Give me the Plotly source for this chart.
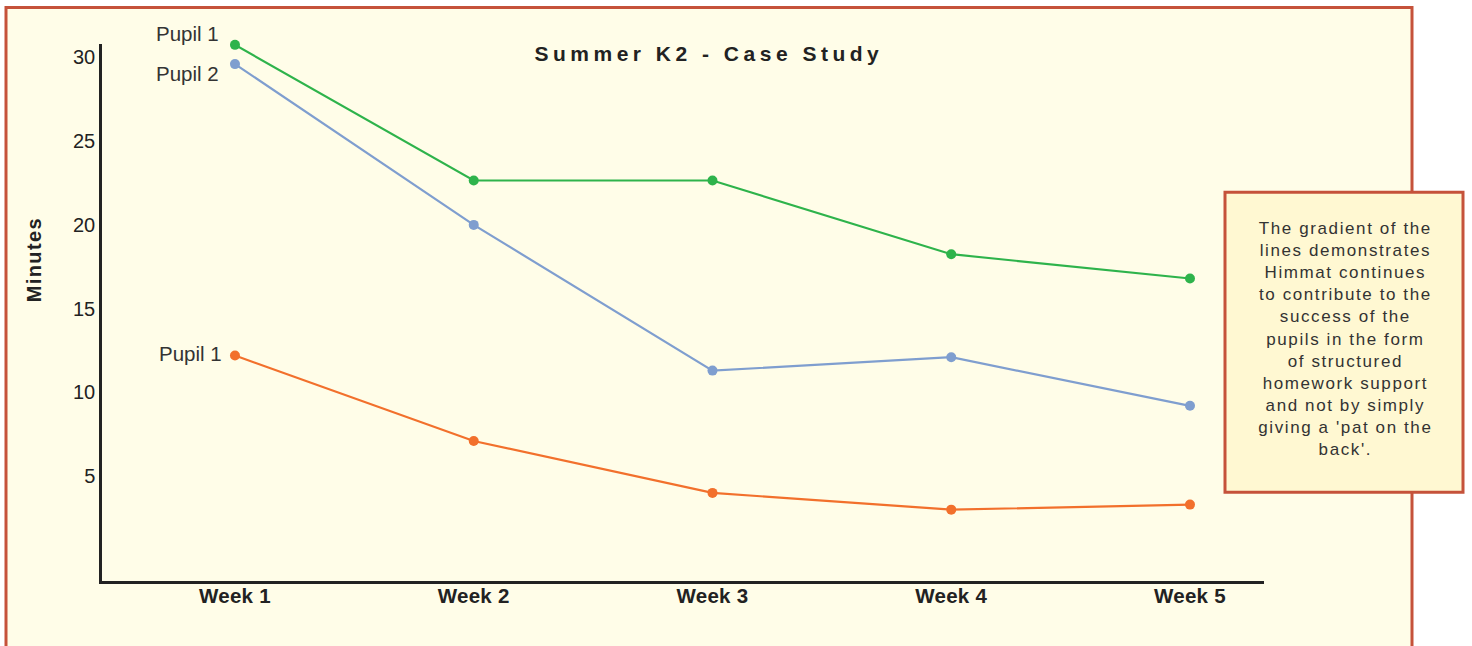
import plotly.graph_objects as go

weeks = ["Week 1", "Week 2", "Week 3", "Week 4", "Week 5"]
pupil1_green = [30.75, 22.65, 22.65, 18.25, 16.8]
pupil2_blue = [29.6, 20.0, 11.3, 12.1, 9.2]
pupil1_orange = [12.2, 7.1, 4.0, 3.0, 3.3]
y_ticks = [5, 10, 15, 20, 25, 30]

title_text = "Summer K2 - Case Study"
y_title = "Minutes"
note_lines = [
    "The gradient of the",
    "lines demonstrates",
    "Himmat continues",
    "to contribute to the",
    "success of the",
    "pupils in the form",
    "of structured",
    "homework support",
    "and not by simply",
    "giving a 'pat on the",
    "back'.",
]

GREEN = "#2eb34b"
BLUE = "#7f9ecf"
ORANGE = "#f2702c"
BORDER = "#c5523a"
CREAM = "#fffde8"
BOXFILL = "#fff8d2"
FONT = "Liberation Sans, Arial, sans-serif"

def px_x(p):
    return (p - 102) / 1162

def px_y(p):
    return (581 - p) / 536

fig = go.Figure()
for vals, col in [(pupil1_orange, ORANGE), (pupil2_blue, BLUE), (pupil1_green, GREEN)]:
    fig.add_trace(go.Scatter(
        x=weeks, y=vals, mode="lines+markers",
        line=dict(color=col, width=2.2),
        marker=dict(color=col, size=10),
        showlegend=False, cliponaxis=False,
    ))

# outer framed panel
fig.add_shape(type="rect", xref="paper", yref="paper", layer="below",
              x0=px_x(6), x1=px_x(1412), y0=px_y(660), y1=px_y(8.5),
              line=dict(color=BORDER, width=3), fillcolor=CREAM)
# note box
fig.add_shape(type="rect", xref="paper", yref="paper", layer="above",
              x0=px_x(1225), x1=px_x(1463), y0=px_y(492.5), y1=px_y(193),
              line=dict(color=BORDER, width=3), fillcolor=BOXFILL)

annotations = [
    dict(text=title_text, xref="paper", yref="paper", x=px_x(709), y=px_y(54),
         showarrow=False, font=dict(family=FONT, size=21, color="#222222", weight="bold"),
         xanchor="center", yanchor="middle"),
    dict(text=y_title, xref="paper", yref="paper", x=px_x(34), y=px_y(260),
         showarrow=False, textangle=-90, font=dict(family=FONT, size=20, color="#222222", weight="bold"),
         xanchor="center", yanchor="middle"),
    dict(text="Pupil 1", x=weeks[0], y=pupil1_green[0], xanchor="right", yanchor="middle",
         xshift=-14, yshift=11, showarrow=False, font=dict(family=FONT, size=20.5, color="#333333")),
    dict(text="Pupil 2", x=weeks[0], y=pupil2_blue[0], xanchor="right", yanchor="middle",
         xshift=-14, yshift=-9, showarrow=False, font=dict(family=FONT, size=20.5, color="#333333")),
    dict(text="Pupil 1", x=weeks[0], y=pupil1_orange[0], xanchor="right", yanchor="middle",
         xshift=-11, yshift=2, showarrow=False, font=dict(family=FONT, size=20.5, color="#333333")),
    dict(text="<br>".join(note_lines), xref="paper", yref="paper",
         x=px_x(1345), y=px_y(339), xanchor="center", yanchor="middle",
         showarrow=False, align="center",
         font=dict(family=FONT, size=17, color="#333333")),
]

fig.update_layout(
    width=1472, height=646,
    margin=dict(l=102, r=208, t=44, b=65),
    paper_bgcolor="#ffffff", plot_bgcolor="rgba(0,0,0,0)",
    annotations=annotations,
    xaxis=dict(range=[-0.557, 4.31], showgrid=False, zeroline=False,
               showline=True, linecolor="#222222", linewidth=2.5,
               ticks="", tickfont=dict(family=FONT, size=20.5, color="#222222", weight="bold"),
               ticklabelstandoff=-5, fixedrange=True),
    yaxis=dict(range=[-1.26, 30.8], showgrid=False, zeroline=False,
               showline=True, linecolor="#222222", linewidth=2.5,
               tickvals=y_ticks, ticks="", ticklabelstandoff=0,
               tickfont=dict(family=FONT, size=20, color="#222222"), fixedrange=True),
    font=dict(family=FONT),
)

post = """
document.body.style.margin = '0';
document.body.style.padding = '0';
var gd = document.getElementById('{plot_id}');
function ls(){
  gd.querySelectorAll('text.annotation-text').forEach(function(t){
    var s = t.textContent;
    if (s.indexOf('Summer') === 0) { t.style.letterSpacing = '4.5px'; }
    else if (s.indexOf('Minutes') === 0) { t.style.letterSpacing = '1.4px'; }
    else if (s.indexOf('The gradient') === 0) { t.style.letterSpacing = '1.6px'; }
  });
  gd.querySelectorAll('.xtick text').forEach(function(t){ t.style.letterSpacing = '0.3px'; });
}
ls();
gd.on('plotly_afterplot', ls);
"""

fig.write_html("out.html", post_script=post, config={"displayModeBar": False})
